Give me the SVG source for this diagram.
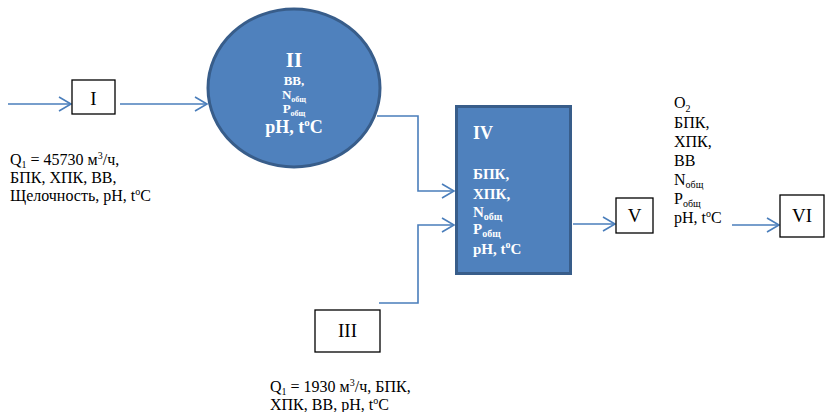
<svg xmlns="http://www.w3.org/2000/svg" width="826" height="412" viewBox="0 0 826 412">
<style>
  .t { font-family: "Liberation Serif", "Tinos", "Times New Roman", "DejaVu Serif", serif; fill: #000; }
  .w { font-family: "Liberation Serif", "Tinos", "Times New Roman", "DejaVu Serif", serif; fill: #fff; font-weight: bold; }
  .box { fill: #fff; stroke: #000; stroke-width: 1.3; }
  .blue { fill: #4F81BD; stroke: #385D8A; stroke-width: 3; }
  .con { fill: none; stroke: #4A7EBB; stroke-width: 1.6; }
</style>
<defs>
  <marker id="arr" markerUnits="userSpaceOnUse" markerWidth="16" markerHeight="16" refX="12" refY="7" orient="auto" viewBox="-1 -1 16 16">
    <path d="M0,0 L12,7 L0,14" fill="none" stroke="#4A7EBB" stroke-width="1.6"/>
  </marker>
</defs>

<g id="connectors">
  <path class="con" d="M8,104 H71" marker-end="url(#arr)"/>
  <path class="con" d="M120,104 H207" marker-end="url(#arr)"/>
  <path class="con" d="M377,116 H418 V191 H454" marker-end="url(#arr)"/>
  <path class="con" d="M379,303 H418 V225 H454" marker-end="url(#arr)"/>
  <path class="con" d="M573,224 H615" marker-end="url(#arr)"/>
  <path class="con" d="M732,225 H779" marker-end="url(#arr)"/>
</g>

<g id="node-I">
  <rect class="box" x="72" y="80" width="43" height="34"/>
  <text class="t" x="93.5" y="105" font-size="19" text-anchor="middle">I</text>
</g>

<g id="label-I">
  <text class="t" x="10" y="165" font-size="16">Q<tspan dy="3" font-size="10">1</tspan><tspan dy="-3"> = 45730 м</tspan><tspan dy="-6" font-size="10">3</tspan><tspan dy="6">/ч,</tspan></text>
  <text class="t" x="10" y="183" font-size="16">БПК, ХПК, ВВ,</text>
  <text class="t" x="10" y="201" font-size="16">Щелочность, pH, t<tspan dy="-6" font-size="10">o</tspan><tspan dy="6">C</tspan></text>
</g>

<g id="node-II">
  <ellipse class="blue" cx="294" cy="88" rx="86" ry="79"/>
  <text class="w" x="294" y="67" font-size="21" text-anchor="middle">II</text>
  <text class="w" x="294" y="85" font-size="13" text-anchor="middle">ВВ,</text>
  <text class="w" x="294" y="99" font-size="13" text-anchor="middle">N<tspan dy="3" font-size="8">общ</tspan></text>
  <text class="w" x="294" y="113" font-size="13" text-anchor="middle">P<tspan dy="3" font-size="8">общ</tspan></text>
  <text class="w" x="294" y="133" font-size="18" text-anchor="middle">pH, t<tspan dy="-7" font-size="11">o</tspan><tspan dy="7">C</tspan></text>
</g>

<g id="node-III">
  <rect class="box" x="315" y="310" width="65" height="42"/>
  <text class="t" x="347.5" y="337" font-size="19" text-anchor="middle">III</text>
</g>

<g id="label-III">
  <text class="t" x="270" y="392" font-size="16">Q<tspan dy="3" font-size="10">1</tspan><tspan dy="-3"> = 1930 м</tspan><tspan dy="-6" font-size="10">3</tspan><tspan dy="6">/ч, БПК,</tspan></text>
  <text class="t" x="270" y="410" font-size="16">ХПК, ВВ, pH, t<tspan dy="-6" font-size="10">o</tspan><tspan dy="6">C</tspan></text>
</g>

<g id="node-IV">
  <rect class="blue" x="456.5" y="106.5" width="114" height="167"/>
  <text class="w" x="473" y="139" font-size="18">IV</text>
  <text class="w" x="473" y="179" font-size="15">БПК,</text>
  <text class="w" x="473" y="199" font-size="15">ХПК,</text>
  <text class="w" x="473" y="217" font-size="15">N<tspan dy="3" font-size="10">общ</tspan></text>
  <text class="w" x="473" y="234" font-size="15">P<tspan dy="3" font-size="10">общ</tspan></text>
  <text class="w" x="473" y="254" font-size="15">pH, t<tspan dy="-6" font-size="10">o</tspan><tspan dy="6">C</tspan></text>
</g>

<g id="node-V">
  <rect class="box" x="616" y="198" width="37" height="35"/>
  <text class="t" x="634.5" y="222" font-size="19" text-anchor="middle">V</text>
</g>

<g id="label-V">
  <text class="t" x="674" y="108" font-size="16">O<tspan dy="4" font-size="10">2</tspan></text>
  <text class="t" x="674" y="128" font-size="16">БПК,</text>
  <text class="t" x="674" y="147" font-size="16">ХПК,</text>
  <text class="t" x="674" y="166" font-size="16">ВВ</text>
  <text class="t" x="674" y="185" font-size="16">N<tspan dy="3" font-size="10">общ</tspan></text>
  <text class="t" x="674" y="204" font-size="16">P<tspan dy="3" font-size="10">общ</tspan></text>
  <text class="t" x="674" y="223" font-size="16">pH, t<tspan dy="-6" font-size="10">o</tspan><tspan dy="6">C</tspan></text>
</g>

<g id="node-VI">
  <rect class="box" x="780" y="195" width="44" height="42"/>
  <text class="t" x="802" y="222" font-size="19" text-anchor="middle">VI</text>
</g>
</svg>
